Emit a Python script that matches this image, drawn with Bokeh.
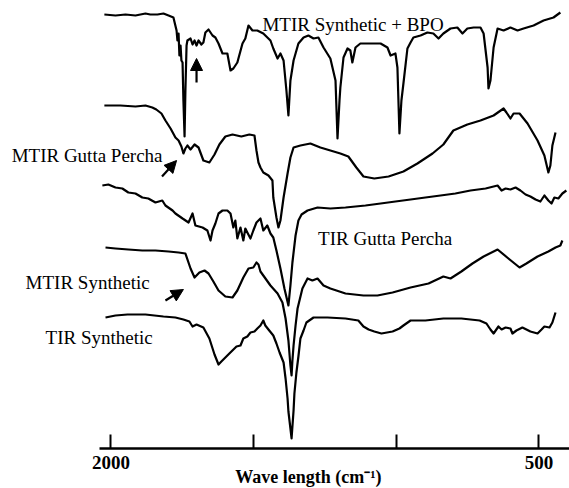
from bokeh.plotting import figure
from bokeh.models import Range1d, FixedTicker, Label, Arrow, NormalHead
from bokeh.embed import file_html
from bokeh.resources import INLINE

# Wavenumbers (cm^-1) and offset transmittance (arbitrary units)
bpo_wn = [2023, 1984, 1949, 1914, 1879, 1862, 1837, 1816, 1798, 1781, 1770, 1767, 1763, 1760, 1756,
          1753, 1749, 1746, 1742, 1739, 1735, 1732, 1721, 1714, 1707, 1700, 1693, 1683, 1676, 1669,
          1658, 1644, 1634, 1623, 1609, 1592, 1581, 1571, 1557, 1539, 1529, 1518, 1504, 1487, 1466,
          1441, 1431, 1416, 1406, 1395, 1385, 1378, 1371, 1360, 1343, 1325, 1308, 1290, 1273, 1255,
          1231, 1213, 1206, 1199, 1196, 1185, 1171, 1161, 1154, 1143, 1126, 1091, 1055, 1031, 1020,
          1003, 996, 989, 982, 975, 961, 950, 940, 915, 891, 870, 852, 835, 810, 786,
          768, 751, 729, 705, 694, 680, 677, 670, 659, 645, 624, 600, 575, 554, 519,
          484, 449, 425]
bpo_t = [434, 433, 434, 433, 435, 434, 434, 435, 433, 431, 418, 408, 415, 393, 403,
         388, 386, 348, 312, 358, 403, 408, 410, 404, 408, 403, 408, 404, 406, 416,
         419, 413, 411, 405, 395, 395, 378, 380, 386, 405, 410, 423, 418, 418, 415,
         408, 400, 390, 395, 388, 358, 333, 368, 388, 405, 411, 413, 410, 411, 401,
         390, 368, 310, 348, 361, 391, 400, 398, 386, 401, 405, 405, 405, 401, 393,
         395, 381, 315, 348, 365, 400, 406, 411, 413, 416, 415, 410, 415, 420, 421,
         415, 420, 421, 421, 415, 381, 360, 368, 401, 420, 418, 421, 418, 420, 423,
         428, 431, 436]

gpm_wn = [2023, 1967, 1914, 1879, 1855, 1841, 1823, 1809, 1791, 1774, 1763, 1753, 1746, 1739, 1732,
          1721, 1707, 1693, 1676, 1655, 1637, 1620, 1599, 1574, 1543, 1515, 1497, 1490, 1483, 1476,
          1466, 1448, 1434, 1431, 1420, 1413, 1406, 1395, 1381, 1371, 1360, 1336, 1301, 1266, 1231,
          1196, 1168, 1140, 1115, 1077, 1027, 975, 926, 873, 835, 800, 751, 705, 659, 624,
          614, 600, 589, 568, 540, 505, 481, 467, 460, 453, 442]
gpm_t = [343, 343, 342, 343, 341, 339, 335, 328, 320, 311, 308, 302, 295, 300, 303,
         299, 304, 301, 288, 286, 294, 304, 312, 314, 312, 314, 313, 298, 286, 281,
         276, 273, 268, 251, 231, 221, 228, 251, 275, 291, 301, 303, 305, 301, 298,
         295, 292, 281, 272, 270, 272, 277, 285, 295, 304, 318, 324, 328, 333, 340,
         336, 330, 335, 335, 325, 308, 293, 276, 283, 303, 316]

gpt_wn = [2030, 2009, 1984, 1960, 1939, 1914, 1890, 1869, 1844, 1820, 1809, 1784, 1774, 1749, 1728,
          1714, 1704, 1679, 1662, 1651, 1644, 1634, 1623, 1609, 1592, 1581, 1571, 1564, 1557, 1546,
          1536, 1529, 1522, 1511, 1501, 1490, 1476, 1466, 1452, 1441, 1431, 1420, 1406, 1392, 1378,
          1371, 1364, 1353, 1343, 1332, 1311, 1276, 1231, 1178, 1108, 1055, 1003, 950, 898, 845,
          793, 740, 687, 645, 631, 617, 600, 582, 565, 547, 530, 512, 495, 481, 467,
          456, 446, 432, 418, 404]
gpt_t = [263, 264, 261, 260, 256, 255, 251, 250, 246, 248, 243, 238, 235, 230, 226,
         235, 223, 221, 218, 208, 218, 225, 235, 238, 238, 235, 221, 228, 210, 221,
         208, 220, 216, 210, 218, 226, 230, 218, 223, 215, 211, 198, 180, 160, 143,
         163, 186, 213, 228, 234, 238, 241, 240, 241, 243, 245, 247, 249, 251, 253,
         255, 258, 260, 263, 258, 260, 259, 261, 258, 254, 252, 249, 247, 253, 248,
         245, 251, 250, 255, 258]

synm_wn = [2019, 1984, 1939, 1890, 1844, 1798, 1763, 1739, 1721, 1707, 1690, 1672, 1658, 1641, 1623,
           1599, 1574, 1557, 1536, 1518, 1501, 1490, 1483, 1476, 1466, 1441, 1416, 1399, 1388, 1378,
           1371, 1367, 1364, 1360, 1353, 1346, 1329, 1311, 1294, 1276, 1255, 1231, 1178, 1115, 1066,
           1013, 950, 887, 835, 810, 772, 733, 694, 645, 607, 568, 544, 505, 467, 442,
           425, 418]
synm_t = [201, 200, 199, 198, 198, 197, 196, 195, 180, 171, 176, 178, 175, 167, 158,
          152, 151, 158, 171, 180, 181, 186, 184, 177, 173, 163, 155, 146, 130, 108,
          83, 73, 88, 103, 123, 140, 160, 170, 168, 170, 163, 160, 155, 153, 153,
          156, 161, 165, 172, 170, 177, 185, 192, 199, 190, 181, 185, 192, 197, 201,
          203, 208]

synt_wn = [2019, 1984, 1942, 1879, 1816, 1774, 1746, 1725, 1714, 1700, 1676, 1655, 1637, 1623, 1613,
           1599, 1585, 1560, 1546, 1536, 1522, 1511, 1497, 1487, 1476, 1466, 1459, 1448, 1431, 1420,
           1409, 1395, 1388, 1381, 1378, 1371, 1367, 1364, 1360, 1357, 1350, 1343, 1336, 1325, 1315,
           1290, 1241, 1178, 1133, 1115, 1097, 1077, 1052, 1013, 989, 975, 950, 898, 835, 772,
           708, 684, 670, 659, 642, 631, 617, 600, 593, 579, 558, 530, 505, 491, 481,
           463, 453, 442]
synt_t = [131, 133, 134, 134, 132, 131, 129, 127, 122, 124, 121, 110, 94, 84, 87,
          91, 95, 102, 103, 110, 112, 116, 117, 120, 123, 128, 123, 119, 113, 105,
          96, 86, 70, 50, 37, 20, 10, 22, 38, 55, 76, 92, 110, 118, 126,
          131, 131, 130, 128, 122, 119, 117, 115, 117, 120, 123, 128, 128, 130, 130,
          128, 125, 119, 115, 122, 119, 121, 120, 115, 118, 121, 117, 115, 119, 122,
          121, 126, 136]

tick_values = [2000, 1500, 1000, 500]
tick_labels = {2000: "2000", 1500: "", 1000: "", 500: "500"}
x_title = "Wave length (cm\u207b\u00b9)"

# Spectrum names and where their labels sit (wavenumber, transmittance)
names = ["MTIR Synthetic + BPO", "MTIR Gutta Percha", "TIR Gutta Percha", "MTIR Synthetic", "TIR Synthetic"]
series = [(bpo_wn, bpo_t), (gpm_wn, gpm_t), (gpt_wn, gpt_t), (synm_wn, synm_t), (synt_wn, synt_t)]
label_pos = [(1469, 424), (2348, 293), (1274, 210), (2299, 166), (2229, 111)]

SERIF = "Liberation Serif"

p = figure(width=569, height=488, output_backend="svg", toolbar_location=None,
           x_range=Range1d(2387, 393), y_range=Range1d(-40, 448),
           min_border_left=0, min_border_right=0, min_border_top=0, min_border_bottom=0,
           y_axis_location=None)
p.grid.visible = False
p.outline_line_color = None
p.background_fill_color = "white"
p.border_fill_color = "white"

for wn, t in series:
    p.line(wn, t, line_color="black", line_width=2.2, line_join="round")

ax = p.xaxis[0]
ax.fixed_location = 0
ax.bounds = (393, 2040)
ax.ticker = FixedTicker(ticks=tick_values)
ax.major_label_overrides = tick_labels
ax.axis_line_width = 2.6
ax.axis_line_color = "black"
ax.major_tick_line_width = 2
ax.major_tick_line_color = "black"
ax.major_tick_in = 14
ax.major_tick_out = 0
ax.minor_tick_line_color = None
ax.major_label_text_font = SERIF
ax.major_label_text_font_style = "bold"
ax.major_label_text_font_size = "19px"
ax.major_label_text_color = "black"
ax.major_label_standoff = 7

p.add_layout(Label(x=1308, y=-28, text=x_title, text_align="center", text_baseline="alphabetic",
                   text_font=SERIF, text_font_style="bold", text_font_size="18px", text_color="black"))

for name, (lx, ly) in zip(names, label_pos):
    p.add_layout(Label(x=lx, y=ly, text=name, text_align="left", text_baseline="alphabetic",
                       text_font=SERIF, text_font_size="19px", text_color="black"))

for (xs, ys, xe, ye) in [(1700, 366, 1700, 390), (1821, 272, 1770, 288), (1809, 148, 1746, 159)]:
    p.add_layout(Arrow(end=NormalHead(size=12, fill_color="black", line_color="black"),
                       x_start=xs, y_start=ys, x_end=xe, y_end=ye,
                       line_width=2.2, line_color="black"))

open("out.html", "w").write(file_html(p, INLINE))
